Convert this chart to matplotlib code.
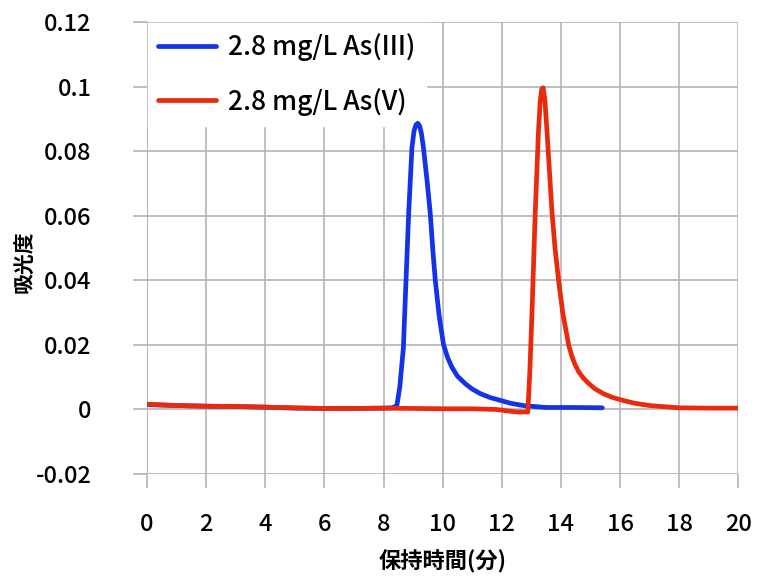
import matplotlib
matplotlib.use("Agg")
import matplotlib.pyplot as plt

plt.rcParams['font.family'] = ['Noto Sans CJK JP', 'DejaVu Sans']

# retention time (min) and absorbance
t_as3 = [0, 1, 2, 3, 4, 5, 6, 7, 8, 8.3, 8.45, 8.55, 8.67, 8.76, 8.85, 8.96,
         9.03, 9.1, 9.16, 9.22, 9.28, 9.35, 9.47, 9.58, 9.67, 9.75, 9.88,
         10.03, 10.17, 10.31, 10.5, 10.76, 11.0, 11.27, 11.6, 11.95, 12.3,
         12.73, 13.5, 14.5, 15.4]
abs_as3 = [0.0015, 0.0012, 0.001, 0.0009, 0.0007, 0.0004, 0.0003, 0.0003,
           0.0004, 0.0005, 0.0012, 0.007, 0.019, 0.040, 0.0607, 0.081, 0.0862,
           0.0882, 0.0886, 0.0878, 0.0855, 0.081, 0.071, 0.0607, 0.049, 0.040,
           0.029, 0.020, 0.016, 0.0131, 0.0103, 0.008, 0.0063, 0.0049, 0.0037,
           0.0028, 0.0019, 0.0012, 0.0006, 0.0006, 0.0005]

t_as5 = [0, 1, 2, 3, 4, 5, 6, 7, 8, 9, 10, 11, 11.8, 12.5, 12.88, 12.95,
         13.02, 13.13, 13.24, 13.3, 13.35, 13.4, 13.46, 13.53, 13.7, 13.8,
         13.92, 14.06, 14.26, 14.37, 14.48, 14.6, 14.75, 14.92, 15.15, 15.43,
         15.75, 16.1, 16.5, 17.0, 18, 19, 20]
abs_as5 = [0.0016, 0.0012, 0.001, 0.0009, 0.0007, 0.0005, 0.0003, 0.0003,
           0.0004, 0.0003, 0.0002, 0.0002, 0.0, -0.0008, -0.0008, 0.012,
           0.0296, 0.0607, 0.086, 0.0955, 0.0992, 0.0996, 0.0955, 0.086,
           0.0607, 0.050, 0.040, 0.030, 0.020, 0.0165, 0.0138, 0.0117, 0.0098,
           0.0082, 0.0064, 0.0049, 0.0037, 0.0028, 0.0019, 0.0012, 0.0005,
           0.0004, 0.0004]

x_ticks = list(range(0, 21, 2))
y_ticks = [-0.02, 0, 0.02, 0.04, 0.06, 0.08, 0.1, 0.12]
y_labels = ["-0.02", "0", "0.02", "0.04", "0.06", "0.08", "0.1", "0.12"]

fig = plt.figure(figsize=(7.58, 5.77), dpi=100)
ax = fig.add_axes([0.194, 0.1785, 0.78, 0.7835])

ax.plot(t_as3, abs_as3, color="#1432e6", lw=3.4, label="2.8 mg/L As(III)",
        solid_capstyle="round", solid_joinstyle="round", zorder=3)
ax.plot(t_as5, abs_as5, color="#ea2a0c", lw=3.4, label="2.8 mg/L As(V)",
        solid_capstyle="round", solid_joinstyle="round", zorder=3)

ax.set_xlim(0, 20)
ax.set_ylim(-0.02, 0.12)
ax.set_xticks(x_ticks)
ax.set_yticks(y_ticks)
ax.set_yticklabels(y_labels)
ax.grid(True, color="#b4b4b4", lw=1.2)
ax.set_axisbelow(True)
for s in ax.spines.values():
    s.set_visible(False)
ax.axvline(0, color="#b4b4b4", lw=1.2, zorder=0)
ax.tick_params(axis="both", direction="out", length=10, width=1.2,
               color="#b4b4b4", labelsize=17)
ax.tick_params(axis="x", pad=18)
ax.tick_params(axis="y", pad=30)
for lab in ax.get_xticklabels() + ax.get_yticklabels():
    lab.set_fontweight("medium")

ax.set_xlabel("保持時間(分)", fontsize=16, fontweight="bold", labelpad=10)
ax.set_ylabel("吸光度", fontsize=15, fontweight="bold")
ax.yaxis.set_label_coords(-0.19, 0.47)

leg = ax.legend(loc="upper left", frameon=True, handlelength=2.2,
                handletextpad=0.45, borderaxespad=0.05, borderpad=0.38,
                labelspacing=1.0, fancybox=False,
                prop={"size": 19, "weight": "medium"})
leg.get_frame().set_edgecolor("white")
leg.get_frame().set_facecolor("white")
leg.get_frame().set_alpha(1)
leg.set_zorder(2)

fig.savefig("out.png", dpi=100)
